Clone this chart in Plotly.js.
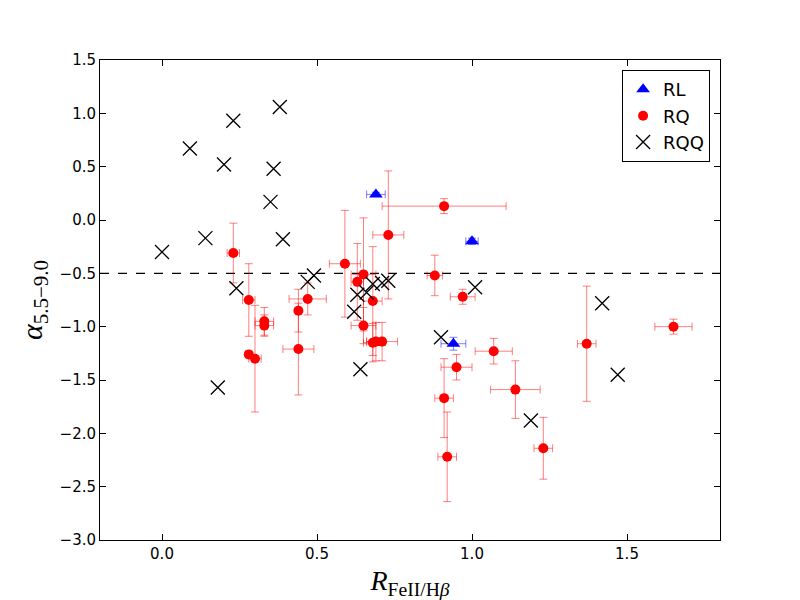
<!DOCTYPE html>
<html>
<head>
<meta charset="utf-8">
<script src="https://cdn.plot.ly/plotly-3.0.1.min.js"></script>
<style>
  body { margin: 0; background: #fff; }
  #chart { width: 800px; height: 600px; }
</style>
</head>
<body>
<div id="chart"></div>
<script>
// RL sources (blue triangles)
let rlX    = [0.69, 1.00, 0.94];
let rlY    = [0.24, -0.20, -1.16];
let rlXerr = [0.03, 0.02, 0.04];
let rlYerr = [0.02, 0.03, 0.06];

// RQ sources (red dots)
let rqX    = [0.23, 0.28, 0.28, 0.30, 0.33, 0.33, 0.44, 0.44, 0.47, 0.59,
              0.63, 0.65, 0.65, 0.68, 0.68, 0.69, 0.71, 0.73, 0.88, 0.91,
              0.97, 0.95, 1.07, 0.91, 0.92, 1.14, 1.23, 1.37, 1.65];
let rqY    = [-0.31, -0.75, -1.26, -1.30, -0.95, -0.99, -0.85, -1.21, -0.74, -0.41,
              -0.58, -0.51, -0.99, -0.76, -1.15, -1.14, -1.14, -0.14, -0.52, 0.13,
              -0.72, -1.38, -1.23, -1.67, -2.22, -1.59, -2.14, -1.16, -1.00];
let rqXerr = [0.02, 0.02, 0.01, 0.02, 0.03, 0.03, 0.01, 0.05, 0.06, 0.05,
              0.02, 0.04, 0.04, 0.03, 0.03, 0.03, 0.05, 0.05, 0.025, 0.20,
              0.04, 0.05, 0.06, 0.03, 0.03, 0.08, 0.03, 0.03, 0.06];
let rqYerr = [0.28, 0.34, 0.02, 0.50, 0.13, 0.10, 0.20, 0.43, 0.15, 0.50,
              0.36, 0.53, 0.17, 0.51, 0.18, 0.18, 0.18, 0.60, 0.19, 0.07,
              0.07, 0.12, 0.12, 0.37, 0.42, 0.27, 0.29, 0.54, 0.07];

// RQQ sources (black crosses)
let rqqX = [0.00, 0.09, 0.20, 0.23, 0.14, 0.18, 0.24, 0.35, 0.36, 0.38,
            0.39, 0.47, 0.49, 0.62, 0.63, 0.66, 0.68, 0.71, 0.73, 0.64,
            0.90, 1.01, 1.19, 1.42, 1.47];
let rqqY = [-0.30, 0.67, 0.52, 0.93, -0.17, -1.57, -0.64, 0.17, 0.48, 1.06,
            -0.18, -0.58, -0.52, -0.86, -0.70, -0.68, -0.60, -0.59, -0.57, -1.40,
            -1.10, -0.63, -1.88, -0.78, -1.45];

let threshold = -0.5;

let tickFont = { family: 'DejaVu Sans, sans-serif', size: 15, color: '#000' };

function errBar(arr, color) {
  return { type: 'data', array: arr, visible: true, color: color, thickness: 1, width: 4 };
}

let traceRL = {
  x: rlX, y: rlY, name: 'RL', mode: 'markers', type: 'scatter',
  marker: { symbol: 'triangle-up', size: 12, color: '#0000ff' },
  error_x: errBar(rlXerr, 'rgba(0,0,255,0.5)'),
  error_y: errBar(rlYerr, 'rgba(0,0,255,0.5)')
};

let traceRQ = {
  x: rqX, y: rqY, name: 'RQ', mode: 'markers', type: 'scatter',
  marker: { symbol: 'circle', size: 10, color: '#ff0000' },
  error_x: errBar(rqXerr, 'rgba(255,0,0,0.5)'),
  error_y: errBar(rqYerr, 'rgba(255,0,0,0.5)')
};

let traceRQQ = {
  x: rqqX, y: rqqY, name: 'RQQ', mode: 'markers', type: 'scatter',
  marker: { symbol: 'x-thin', size: 14, color: '#000', line: { color: '#000', width: 1.3 } }
};

let axisBase = {
  showgrid: false, zeroline: false,
  showline: true, linecolor: '#000', linewidth: 1, mirror: 'ticks',
  ticks: 'inside', ticklen: 6, tickcolor: '#000',
  tickfont: tickFont
};

let layout = {
  width: 800, height: 600,
  margin: { l: 100, r: 80, t: 60, b: 60 },
  paper_bgcolor: '#fff', plot_bgcolor: '#fff',
  showlegend: true,
  legend: {
    x: 0.984, y: 0.979, xanchor: 'right', yanchor: 'top',
    bordercolor: '#000', borderwidth: 1, bgcolor: '#fff',
    font: { family: 'DejaVu Sans, sans-serif', size: 18, color: '#000' },
    tracegroupgap: 4
  },
  xaxis: Object.assign({}, axisBase, {
    range: [-0.2, 1.8], dtick: 0.5, tick0: 0, tickformat: '.1f',
    title: { text: '<i>R</i><sub>FeII/H<i>β</i></sub>', standoff: 10,
             font: { family: 'Liberation Serif, serif', size: 28, color: '#000' } }
  }),
  yaxis: Object.assign({}, axisBase, {
    range: [-3.0, 1.5], dtick: 0.5, tick0: 0, tickformat: '.1f',
    title: { text: '<i>α</i><sub>5.5−9.0</sub>', standoff: 8,
             font: { family: 'Liberation Serif, serif', size: 30, color: '#000' } }
  }),
  shapes: [{
    type: 'line', xref: 'paper', x0: 0, x1: 1, yref: 'y', y0: threshold, y1: threshold,
    line: { color: '#000', width: 1.3, dash: 'dash' }, layer: 'below'
  }]
};

Plotly.newPlot(document.getElementById('chart'), [traceRL, traceRQ, traceRQQ], layout,
  { displayModeBar: false, staticPlot: true });
</script>
</body>
</html>
